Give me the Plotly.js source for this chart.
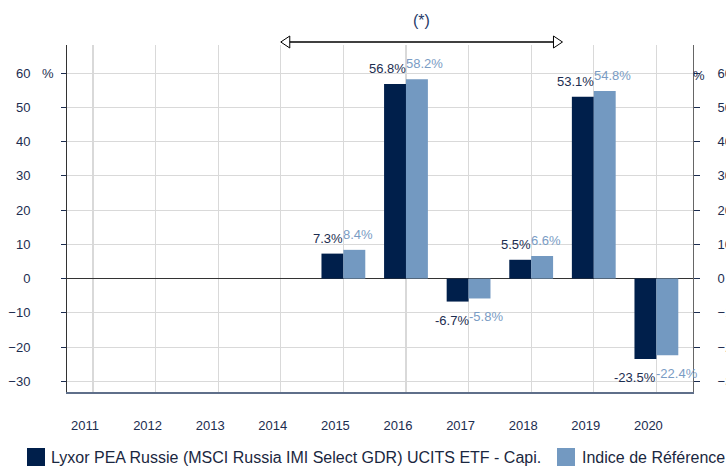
<!DOCTYPE html>
<html>
<head>
<meta charset="utf-8">
<script src="https://cdn.plot.ly/plotly-3.0.1.min.js"></script>
<style>html,body{margin:0;padding:0;background:#fff;}#chart{width:726px;height:468px;}</style>
</head>
<body>
<div id="chart"></div>
<script>
// ---- data ----
const years = ["2011","2012","2013","2014","2015","2016","2017","2018","2019","2020"];
const fundName = "Lyxor PEA Russie (MSCI Russia IMI Select GDR) UCITS ETF - Capi.";
const indexName = "Indice de Référence";
const fundValues  = [null, null, null, null, 7.3, 56.8, -6.7, 5.5, 53.1, -23.5];
const indexValues = [null, null, null, null, 8.4, 58.2, -5.8, 6.6, 54.8, -22.4];
const yTicks = [-30, -20, -10, 0, 10, 20, 30, 40, 50, 60];
const arrowFrom = 3, arrowTo = 7.5;   // category positions of the (*) arrow

// ---- style ----
const DARK = "#001f4b", LIGHT = "#7399c1";
const TXT = "#1c2d50", LTXT = "#7a9cc4";
const FONT = "Liberation Sans, Arial, sans-serif";
const xRange = [-0.415, 9.585];
const yRange = [-33.1, 68.2];
const idx = years.map((_, i) => i);
const toPaperX = v => (v - xRange[0]) / (xRange[1] - xRange[0]);
const plotTop = 45, plotBottom = 392, plotH = plotBottom - plotTop;
const pyToPaper = py => (plotBottom - py) / plotH;
const pxToPaper = px => (px - 67) / 626;

const traces = [
  {type: "bar", x: idx, y: fundValues, name: fundName, marker: {color: DARK}, hoverinfo: "skip", showlegend: false},
  {type: "bar", x: idx, y: indexValues, name: indexName, marker: {color: LIGHT}, hoverinfo: "skip", showlegend: false},
  {type: "scatter", x: idx, y: fundValues, yaxis: "y2", mode: "markers", marker: {opacity: 0}, hoverinfo: "skip", showlegend: false}
];

const annotations = [];
function addLabels(vals, color, anchor, shift) {
  vals.forEach((v, i) => {
    if (v === null) return;
    annotations.push({
      x: i, y: v, xref: "x", yref: "y",
      text: v.toFixed(1) + "%", showarrow: false,
      xanchor: anchor, yanchor: v >= 0 ? "bottom" : "top",
      xshift: shift, yshift: v >= 0 ? 6 : -9,
      font: {family: FONT, size: 13, color: color}
    });
  });
}
addLabels(indexValues, LTXT, "left", -2);
addLabels(fundValues, TXT, "right", 2);

annotations.push({xref: "paper", yref: "y", x: pxToPaper(48), y: 60, text: "%", showarrow: false,
  xanchor: "center", yanchor: "middle", font: {family: FONT, size: 13, color: TXT}});
annotations.push({xref: "paper", yref: "y", x: pxToPaper(699), y: 60, yshift: -2, text: "%", showarrow: false,
  xanchor: "center", yanchor: "middle", font: {family: FONT, size: 13, color: TXT}});
annotations.push({xref: "paper", yref: "paper", x: toPaperX((arrowFrom + arrowTo) / 2), y: pyToPaper(20),
  text: "(*)", showarrow: false, xanchor: "center", yanchor: "middle",
  font: {family: FONT, size: 16, color: "#1f3a68"}});
// legend
annotations.push({xref: "paper", yref: "paper", x: pxToPaper(49), y: pyToPaper(457), text: fundName,
  showarrow: false, xanchor: "left", yanchor: "middle", font: {family: FONT, size: 16, color: "#1a2740"}});
annotations.push({xref: "paper", yref: "paper", x: pxToPaper(580), y: pyToPaper(457), text: indexName,
  showarrow: false, xanchor: "left", yanchor: "middle", font: {family: FONT, size: 16, color: "#1a2740"}});

const arrowY = pyToPaper(42);
const headW = 8 / 62.6;
const shapes = [
  {type: "line", xref: "paper", yref: "paper", x0: toPaperX(arrowFrom + headW), x1: toPaperX(arrowTo - headW),
   y0: arrowY, y1: arrowY, line: {color: "#000", width: 1.6}},
  {type: "path", xref: "paper", yref: "paper", xsizemode: "pixel", ysizemode: "pixel",
   xanchor: toPaperX(arrowFrom), yanchor: arrowY, path: "M0,0 L9,6 L9,-6 Z",
   fillcolor: "#fff", line: {color: "#000", width: 1}},
  {type: "path", xref: "paper", yref: "paper", xsizemode: "pixel", ysizemode: "pixel",
   xanchor: toPaperX(arrowTo), yanchor: arrowY, path: "M0,0 L-9,6 L-9,-6 Z",
   fillcolor: "#fff", line: {color: "#000", width: 1}},
  {type: "rect", xref: "paper", yref: "paper", x0: pxToPaper(27), x1: pxToPaper(45),
   y0: pyToPaper(466), y1: pyToPaper(448), fillcolor: DARK, line: {width: 0}},
  {type: "rect", xref: "paper", yref: "paper", x0: pxToPaper(557), x1: pxToPaper(575),
   y0: pyToPaper(466), y1: pyToPaper(448), fillcolor: LIGHT, line: {width: 0}}
];

const layout = {
  width: 726, height: 468,
  margin: {l: 67, r: 33, t: 45, b: 76, pad: 0},
  paper_bgcolor: "#fff", plot_bgcolor: "#fff",
  font: {family: FONT, size: 13, color: TXT},
  barmode: "group", bargap: 0.3, bargroupgap: 0,
  showlegend: false,
  xaxis: {
    type: "linear", range: xRange, tickvals: idx, ticktext: years,
    showgrid: true, gridcolor: "#d9d9d9", gridwidth: 1.3, zeroline: false,
    showline: true, linecolor: "#5f6f8a", linewidth: 1.5,
    ticks: "", ticklabelstandoff: 21, ticklabelshift: -8,
    tickfont: {family: FONT, size: 13, color: TXT}, fixedrange: true
  },
  yaxis: {
    range: yRange, tickvals: yTicks, showgrid: true, gridcolor: "#d9d9d9", gridwidth: 1,
    zeroline: true, zerolinecolor: "#333", zerolinewidth: 1,
    showline: true, linecolor: "#333", linewidth: 1,
    ticks: "outside", ticklen: 5, tickcolor: TXT, ticklabelstandoff: 28,
    tickfont: {family: FONT, size: 13, color: TXT}, fixedrange: true
  },
  yaxis2: {
    overlaying: "y", side: "right", range: yRange, tickvals: yTicks, showgrid: false, zeroline: false,
    showline: true, linecolor: "#666", linewidth: 1,
    ticks: "outside", ticklen: 6, tickcolor: TXT, ticklabelstandoff: 15,
    tickfont: {family: FONT, size: 13, color: TXT}, fixedrange: true
  },
  annotations: annotations,
  shapes: shapes
};

Plotly.newPlot("chart", traces, layout, {displayModeBar: false, staticPlot: true});
</script>
</body>
</html>
